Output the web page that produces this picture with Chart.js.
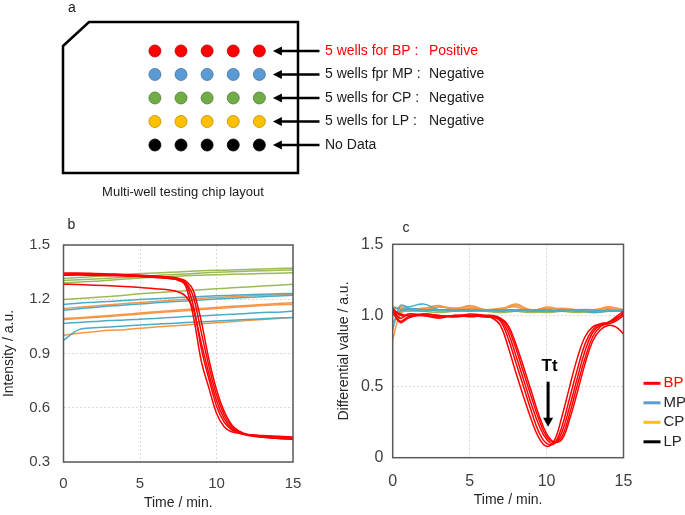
<!DOCTYPE html>
<html>
<head>
<meta charset="utf-8">
<script src="https://cdn.jsdelivr.net/npm/chart.js@4.4.1/dist/chart.umd.min.js"></script>
<style>
  html, body { margin: 0; padding: 0; background: #fff; }
  #wrap { position: relative; width: 685px; height: 515px; background: #fff; }
  canvas { position: absolute; }
</style>
</head>
<body>
<div id="wrap">
  <canvas id="chipChart" width="685" height="205" style="left:0;top:0"></canvas>
  <canvas id="intensityChart" width="330" height="310" style="left:0;top:205px"></canvas>
  <canvas id="diffChart" width="355" height="310" style="left:330px;top:205px"></canvas>
</div>
<script>
Chart.defaults.font.family = '"Liberation Sans", Arial, sans-serif';
Chart.defaults.color = '#404040';
Chart.defaults.animation = false;

// panel a : chip layout
const wellColumns = [1, 2, 3, 4, 5];
const wellRows = ['BP', 'MP', 'CP', 'LP', 'No Data'];
const wellColors = ['#ff0000', '#5b9bd5', '#70ad47', '#ffc000', '#000000'];
const wellEdges = ['#c00000', '#41719c', '#507e32', '#bc8c00', '#000000'];
const wellLabels = ['5 wells for BP :', '5 wells fpr MP :', '5 wells for CP :', '5 wells for LP :', 'No Data'];
const wellResults = ['Positive', 'Negative', 'Negative', 'Negative', ''];

// panel b : intensity
const timeB = [0, 1, 2, 3, 4, 5, 6, 7, 8, 9, 10, 11, 12, 13, 14, 15];
const redTimeB = [0, 1, 2, 3, 4, 5, 6, 7, 7.5, 8, 8.5, 9, 9.5, 10, 10.5, 11, 11.5, 12, 13, 14, 15];
const redB = [
  [1.336,1.337,1.335,1.333,1.331,1.328,1.322,1.315,1.305,1.270,1.100,0.860,0.710,0.570,0.495,0.467,0.458,0.452,0.447,0.442,0.438],
  [1.340,1.341,1.339,1.337,1.335,1.332,1.327,1.320,1.312,1.285,1.160,0.930,0.760,0.610,0.520,0.478,0.462,0.452,0.444,0.438,0.433],
  [1.283,1.281,1.278,1.274,1.270,1.265,1.258,1.250,1.240,1.215,1.140,0.960,0.790,0.640,0.540,0.485,0.462,0.448,0.438,0.432,0.428],
  [1.333,1.334,1.332,1.330,1.328,1.325,1.320,1.314,1.307,1.290,1.210,1.020,0.830,0.670,0.560,0.495,0.465,0.450,0.437,0.430,0.425],
  [1.345,1.345,1.343,1.340,1.337,1.333,1.328,1.322,1.316,1.300,1.245,1.080,0.870,0.700,0.580,0.505,0.470,0.452,0.440,0.432,0.428]
];
const greenB = [
  [1.314,1.320,1.326,1.331,1.337,1.342,1.345,1.349,1.353,1.357,1.360,1.362,1.365,1.367,1.370,1.372],
  [1.303,1.308,1.312,1.316,1.321,1.327,1.331,1.336,1.340,1.345,1.349,1.352,1.355,1.358,1.360,1.362],
  [1.290,1.295,1.300,1.305,1.312,1.318,1.322,1.326,1.330,1.333,1.336,1.338,1.340,1.342,1.344,1.346],
  [1.198,1.204,1.210,1.215,1.222,1.230,1.236,1.241,1.247,1.252,1.258,1.263,1.268,1.273,1.278,1.283]
];
const blueB = [
  [1.171,1.178,1.183,1.188,1.193,1.198,1.203,1.207,1.211,1.215,1.219,1.222,1.225,1.228,1.230,1.232],
  [1.139,1.148,1.155,1.162,1.168,1.174,1.180,1.186,1.191,1.196,1.201,1.206,1.210,1.214,1.218,1.222],
  [1.066,1.072,1.077,1.082,1.085,1.090,1.094,1.099,1.104,1.108,1.113,1.117,1.121,1.127,1.128,1.135],
  [0.973,1.032,1.042,1.047,1.052,1.057,1.062,1.066,1.071,1.075,1.080,1.084,1.088,1.092,1.096,1.099]
];
const orangeB = [
  [1.149,1.156,1.163,1.170,1.176,1.182,1.188,1.194,1.200,1.205,1.210,1.214,1.218,1.222,1.225,1.228],
  [1.093,1.098,1.104,1.110,1.117,1.124,1.131,1.137,1.143,1.149,1.155,1.161,1.166,1.171,1.176,1.180],
  [1.088,1.094,1.099,1.105,1.111,1.118,1.125,1.131,1.137,1.143,1.149,1.154,1.160,1.165,1.169,1.172],
  [1.001,1.012,1.020,1.028,1.032,1.040,1.046,1.052,1.058,1.064,1.070,1.076,1.082,1.088,1.094,1.100]
];

// panel c : differential value
const timeC = [0, 0.5, 1, 2, 3, 4, 5, 6, 7, 8, 9, 10, 11, 12, 13, 14, 15];
const redTimeC = [0, 0.5, 1, 2, 3, 4, 5, 6, 6.5, 7, 7.5, 8, 8.5, 9, 9.5, 10, 10.5, 11, 11.5, 12, 12.5, 13, 13.5, 14, 14.5, 15];
const redC = [
  [1.03,0.96,0.99,1.00,0.99,1.00,1.00,0.99,0.98,0.93,0.78,0.60,0.43,0.27,0.14,0.08,0.12,0.29,0.50,0.70,0.85,0.92,0.94,0.95,0.98,1.01],
  [1.05,1.00,1.00,1.01,1.00,0.99,1.01,1.00,0.99,0.96,0.84,0.67,0.50,0.33,0.18,0.10,0.10,0.22,0.42,0.62,0.80,0.90,0.94,0.95,0.97,1.02],
  [1.04,0.98,1.01,1.00,0.98,1.00,0.99,1.00,0.99,0.97,0.88,0.72,0.55,0.38,0.23,0.13,0.10,0.18,0.36,0.56,0.75,0.88,0.93,0.94,0.96,1.00],
  [1.02,0.95,0.98,1.01,1.00,0.99,1.00,1.00,1.00,0.98,0.91,0.77,0.60,0.43,0.27,0.15,0.11,0.15,0.31,0.51,0.70,0.85,0.92,0.95,0.99,1.03],
  [1.04,1.01,1.00,1.00,0.99,1.00,1.00,0.99,0.99,0.98,0.93,0.80,0.64,0.47,0.30,0.17,0.11,0.13,0.27,0.46,0.66,0.82,0.90,0.93,0.92,0.87]
];
const blueC = [
  [0.90,1.07,1.06,1.08,1.04,1.04,1.04,1.03,1.04,1.03,1.04,1.03,1.03,1.04,1.02,1.03,1.03],
  [1.06,1.04,1.05,1.04,1.04,1.03,1.04,1.04,1.04,1.04,1.03,1.03,1.04,1.03,1.03,1.04,1.03],
  [1.01,1.03,1.04,1.03,1.04,1.04,1.03,1.04,1.03,1.04,1.04,1.04,1.03,1.04,1.04,1.03,1.04]
];
const orangeC = [
  [0.83,1.01,1.04,1.05,1.07,1.04,1.07,1.04,1.04,1.08,1.03,1.06,1.04,1.04,1.03,1.06,1.04],
  [1.06,1.05,1.04,1.05,1.06,1.05,1.05,1.04,1.04,1.07,1.04,1.05,1.04,1.04,1.04,1.05,1.03],
  [1.04,1.06,1.05,1.04,1.06,1.05,1.06,1.04,1.05,1.06,1.03,1.04,1.05,1.04,1.03,1.06,1.04]
];
const greenC = [
  [0.95,1.02,1.03,1.03,1.02,1.03,1.03,1.03,1.02,1.03,1.03,1.02,1.03,1.03,1.02,1.03,1.03],
  [1.00,1.03,1.03,1.04,1.03,1.03,1.04,1.03,1.03,1.03,1.02,1.03,1.03,1.02,1.03,1.03,1.03]
];
const legendNames = ['BP', 'MP', 'CP', 'LP'];
const legendColors = ['#ff0000', '#5b9bd5', '#ffc000', '#000000'];
const ttTime = 10.1;

const RED = '#ff0000', GREEN = '#9bbb59', BLUE = '#4bacc6', ORANGE = '#f79646';

function lineSet(xs, ys, color, mode) {
  return {
    data: xs.map((x, i) => ({x: x, y: ys[i]})),
    borderColor: color,
    borderWidth: 1.5,
    pointRadius: 0,
    fill: false,
    tension: 0.4,
    cubicInterpolationMode: mode
  };
}

// frame + panel letter
const framePlugin = {
  id: 'frame',
  afterDatasetsDraw(chart, args, opts) {
    const {ctx, chartArea: a} = chart;
    ctx.save();
    ctx.strokeStyle = '#595959';
    ctx.lineWidth = 1.5;
    ctx.strokeRect(a.left, a.top, a.right - a.left, a.bottom - a.top);
    ctx.fillStyle = '#262626';
    ctx.font = '14px "Liberation Sans"';
    ctx.textAlign = 'center';
    ctx.textBaseline = 'middle';
    ctx.fillText(opts.letter, a.left + opts.dx, a.top + opts.dy);
    ctx.restore();
  }
};

// ---------- a ----------
const chipPlugin = {
  id: 'chip',
  afterDraw(chart) {
    const {ctx, chartArea: a, scales} = chart;
    ctx.save();
    ctx.strokeStyle = '#000';
    ctx.lineWidth = 2.5;
    ctx.beginPath();
    ctx.moveTo(a.left, a.top + 24);
    ctx.lineTo(a.left + 26, a.top);
    ctx.lineTo(a.right, a.top);
    ctx.lineTo(a.right, a.bottom);
    ctx.lineTo(a.left, a.bottom);
    ctx.closePath();
    ctx.stroke();

    ctx.font = '14px "Liberation Sans"';
    ctx.textBaseline = 'middle';
    wellRows.forEach((row, i) => {
      const y = scales.y.getPixelForValue(i + 1);
      const tip = scales.x.getPixelForValue(wellColumns[wellColumns.length - 1]) + 13.5;
      const tail = a.right + 21.5;
      ctx.fillStyle = '#000';
      ctx.lineWidth = 2.5;
      ctx.beginPath();
      ctx.moveTo(tip + 6, y);
      ctx.lineTo(tail, y);
      ctx.stroke();
      ctx.beginPath();
      ctx.moveTo(tip, y);
      ctx.lineTo(tip + 9, y - 4.5);
      ctx.lineTo(tip + 9, y + 4.5);
      ctx.closePath();
      ctx.fill();
      ctx.fillStyle = i === 0 ? '#ff0000' : '#1a1a1a';
      ctx.textAlign = 'left';
      ctx.fillText(wellLabels[i], a.right + 27, y);
      ctx.fillText(wellResults[i], a.right + 131, y);
    });

    ctx.fillStyle = '#1a1a1a';
    ctx.textAlign = 'center';
    ctx.font = '14px "Liberation Sans"';
    ctx.fillText('a', a.left + 9, a.top - 14);
    ctx.font = '13px "Liberation Sans"';
    ctx.fillText('Multi-well testing chip layout', a.left + 120, a.bottom + 19);
    ctx.restore();
  }
};

new Chart(document.getElementById('chipChart'), {
  type: 'scatter',
  data: {
    datasets: wellRows.map((row, r) => ({
      label: row,
      data: wellColumns.map(c => ({x: c, y: r + 1})),
      pointRadius: 6,
      pointBackgroundColor: wellColors[r],
      pointBorderColor: wellEdges[r],
      pointBorderWidth: 0.8
    }))
  },
  options: {
    responsive: false,
    maintainAspectRatio: false,
    layout: { padding: { left: 63, top: 22, right: 387, bottom: 32 } },
    scales: {
      x: { display: false, min: -2.52, max: 6.48 },
      y: { display: false, min: -0.23, max: 6.19, reverse: true }
    },
    plugins: { legend: { display: false }, tooltip: { enabled: false } }
  },
  plugins: [chipPlugin]
});

// ---------- b ----------
const datasetsB = [];
redB.forEach(s => datasetsB.push(lineSet(redTimeB, s, RED, 'monotone')));
greenB.forEach(s => datasetsB.push(lineSet(timeB, s, GREEN, 'monotone')));
blueB.forEach(s => datasetsB.push(lineSet(timeB, s, BLUE, 'monotone')));
orangeB.forEach(s => datasetsB.push(lineSet(timeB, s, ORANGE, 'monotone')));

function axisX(pad, titlePad, height) {
  return {
    type: 'linear', min: 0, max: 15,
    afterFit(scale) { scale.height = height; },
    ticks: { stepSize: 5, padding: pad, font: { size: 15 }, color: '#404040', maxRotation: 0 },
    grid: { color: '#d9d9d9', drawTicks: false },
    border: { display: false, dash: [2, 2] },
    title: { display: true, text: 'Time / min.', font: { size: 14 }, color: '#262626', padding: { top: 0, bottom: titlePad } }
  };
}

new Chart(document.getElementById('intensityChart'), {
  type: 'line',
  data: { datasets: datasetsB },
  options: {
    responsive: false,
    maintainAspectRatio: false,
    layout: { padding: { left: 0, top: 40, right: 37, bottom: 0 } },
    scales: {
      x: axisX(13, 3.6, 53),
      y: {
        min: 0.3, max: 1.5,
        afterFit(scale) { scale.width = 63.5; },
        ticks: { stepSize: 0.3, padding: 13.5, font: { size: 15 }, color: '#404040', callback: v => v.toFixed(1) },
        grid: { color: '#d9d9d9', drawTicks: false },
        border: { display: false, dash: [2, 2] },
        title: { display: true, text: 'Intensity / a.u.', font: { size: 14 }, color: '#262626', padding: { top: 1, bottom: 0 } }
      }
    },
    plugins: { legend: { display: false }, tooltip: { enabled: false }, frame: { letter: 'b', dx: 8, dy: -20 } }
  },
  plugins: [framePlugin]
});

// ---------- c ----------
const datasetsC = [];
redC.forEach(s => datasetsC.push(lineSet(redTimeC, s, RED, 'default')));
blueC.forEach(s => datasetsC.push(lineSet(timeC, s, BLUE, 'default')));
orangeC.forEach(s => datasetsC.push(lineSet(timeC, s, ORANGE, 'default')));
greenC.forEach(s => datasetsC.push(lineSet(timeC, s, GREEN, 'default')));

const extrasPlugin = {
  id: 'extras',
  afterDraw(chart) {
    const {ctx, chartArea: a, scales} = chart;
    ctx.save();
    // Tt marker
    const x = scales.x.getPixelForValue(ttTime);
    ctx.fillStyle = '#000';
    ctx.strokeStyle = '#000';
    ctx.font = 'bold 17px "Liberation Sans"';
    ctx.textAlign = 'center';
    ctx.textBaseline = 'middle';
    ctx.fillText('Tt', x + 1.5, scales.y.getPixelForValue(0.644));
    const y0 = scales.y.getPixelForValue(0.534);
    const y1 = scales.y.getPixelForValue(0.218);
    ctx.lineWidth = 3;
    ctx.beginPath();
    ctx.moveTo(x, y0);
    ctx.lineTo(x, y1 - 6);
    ctx.stroke();
    ctx.beginPath();
    ctx.moveTo(x, y1);
    ctx.lineTo(x - 5, y1 - 9);
    ctx.lineTo(x + 5, y1 - 9);
    ctx.closePath();
    ctx.fill();
    // legend
    ctx.font = '15px "Liberation Sans"';
    ctx.textAlign = 'left';
    legendNames.forEach((name, i) => {
      const ly = a.top + 139 + i * 19.5;
      ctx.strokeStyle = legendColors[i];
      ctx.lineWidth = 3;
      ctx.beginPath();
      ctx.moveTo(a.right + 20, ly);
      ctx.lineTo(a.right + 37, ly);
      ctx.stroke();
      ctx.fillStyle = i === 0 ? '#ff0000' : '#262626';
      ctx.fillText(name, a.right + 40, ly);
    });
    ctx.restore();
  }
};

const axisC = axisX(14.3, 6.6, 57.3);
axisC.ticks.font = { size: 16 };

new Chart(document.getElementById('diffChart'), {
  type: 'line',
  data: { datasets: datasetsC },
  options: {
    responsive: false,
    maintainAspectRatio: false,
    layout: { padding: { left: 0, top: 39.3, right: 61.5, bottom: 0 } },
    scales: {
      x: axisC,
      y: {
        min: 0, max: 1.5,
        afterFit(scale) { scale.width = 62.7; },
        ticks: { stepSize: 0.5, padding: 9.4, font: { size: 16 }, color: '#404040', callback: v => (v === 0 ? '0' : v.toFixed(1)) },
        grid: { color: '#d9d9d9', drawTicks: false },
        border: { display: false, dash: [2, 2] },
        title: { display: true, text: 'Differential value / a.u.', font: { size: 14 }, color: '#262626', padding: { top: 6, bottom: 0 } }
      }
    },
    plugins: { legend: { display: false }, tooltip: { enabled: false }, frame: { letter: 'c', dx: 13.3, dy: -16 } }
  },
  plugins: [framePlugin, extrasPlugin]
});
</script>
</body>
</html>
